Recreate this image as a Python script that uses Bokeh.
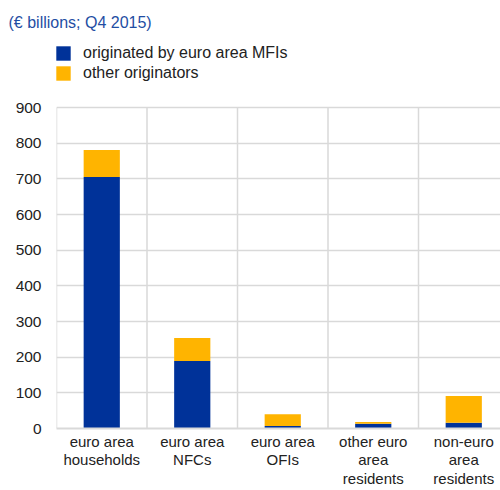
from bokeh.plotting import figure
from bokeh.models import FixedTicker, Legend, LegendItem, Title, Range1d, ColumnDataSource
from bokeh.embed import file_html
from bokeh.resources import INLINE

categories = ["euro area\nhouseholds", "euro area\nNFCs", "euro area\nOFIs",
              "other euro\narea\nresidents", "non-euro\narea\nresidents"]
mfi = [705, 189, 7, 13, 16]
other = [76, 65, 33, 5, 75]
y_ticks = [0, 100, 200, 300, 400, 500, 600, 700, 800, 900]
series_labels = ["originated by euro area MFIs", "other originators"]
title_text = "(€ billions; Q4 2015)"

BLUE = "#003299"
YELLOW = "#ffb400"
GRID = "#d9d9d9"
FONT = "Liberation Sans"

n = len(categories)
xpos = [i + 0.5 for i in range(n)]
src = ColumnDataSource(dict(x=xpos, mfi=mfi, other=other))

FW = 444
TOP = 32            # frame top in canvas px
FB = 428            # frame bottom in canvas px
Y900 = 107          # where the 900 gridline should sit
y_end = y_ticks[-1] * (FB - TOP) / (FB - Y900)

p = figure(width=500, height=490, output_backend="svg", toolbar_location=None,
           x_range=Range1d(0, FW / 90.5), y_range=Range1d(0, y_end),
           min_border_left=56, min_border_right=0, min_border_top=TOP,
           min_border_bottom=490 - FB)
p.outline_line_color = None
p.background_fill_color = "white"
p.border_fill_color = "white"

# category separators (vertical grid) only up to the top tick
bounds = list(range(n + 1))
p.segment(x0=bounds, x1=bounds, y0=[y_ticks[0]] * len(bounds), y1=[y_ticks[-1]] * len(bounds),
          line_color=GRID, line_width=1.5)

rs = p.vbar_stack(["mfi", "other"], x="x", width=0.4, source=src,
                  color=[BLUE, YELLOW], line_color=None)

# axes
p.xaxis.ticker = FixedTicker(ticks=xpos)
p.xaxis.major_label_overrides = {xv: c for xv, c in zip(xpos, categories)}
p.xaxis.major_tick_line_color = None
p.xaxis.minor_tick_line_color = None
p.xaxis.axis_line_color = GRID
p.xaxis.axis_line_width = 2
p.xaxis.major_label_text_font = FONT
p.xaxis.major_label_text_font_size = "15px"
p.xaxis.major_label_text_line_height = 1.1
p.xaxis.major_label_text_color = "#222222"
p.xaxis.major_label_standoff = -2

p.yaxis.ticker = FixedTicker(ticks=y_ticks)
p.yaxis.major_tick_line_color = None
p.yaxis.minor_tick_line_color = None
p.yaxis.axis_line_color = None
p.yaxis.major_label_text_font = FONT
p.yaxis.major_label_text_font_size = "15.5px"
p.yaxis.major_label_text_color = "#222222"
p.yaxis.major_label_standoff = 9

p.ygrid.ticker = FixedTicker(ticks=y_ticks)
p.ygrid.grid_line_color = GRID
p.ygrid.grid_line_width = 1.5
p.xgrid.grid_line_color = None

legend = Legend(items=[LegendItem(label=series_labels[0], renderers=[rs[0]]),
                       LegendItem(label=series_labels[1], renderers=[rs[1]])],
                location=(-2, FB - 82), orientation="vertical",
                glyph_width=18, glyph_height=18, label_standoff=11, spacing=2,
                padding=0, margin=0, border_line_color=None, background_fill_alpha=0,
                label_text_font=FONT, label_text_font_size="16px",
                label_text_color="#222222", label_height=18)
p.add_layout(legend, "center")

title = Title(text=title_text, text_font=FONT, text_font_size="16px",
              text_color="#1f4ea3", text_font_style="normal", align="left",
              offset=-48, standoff=4)
p.add_layout(title, "above")

open("out.html", "w").write(file_html(p, INLINE))
